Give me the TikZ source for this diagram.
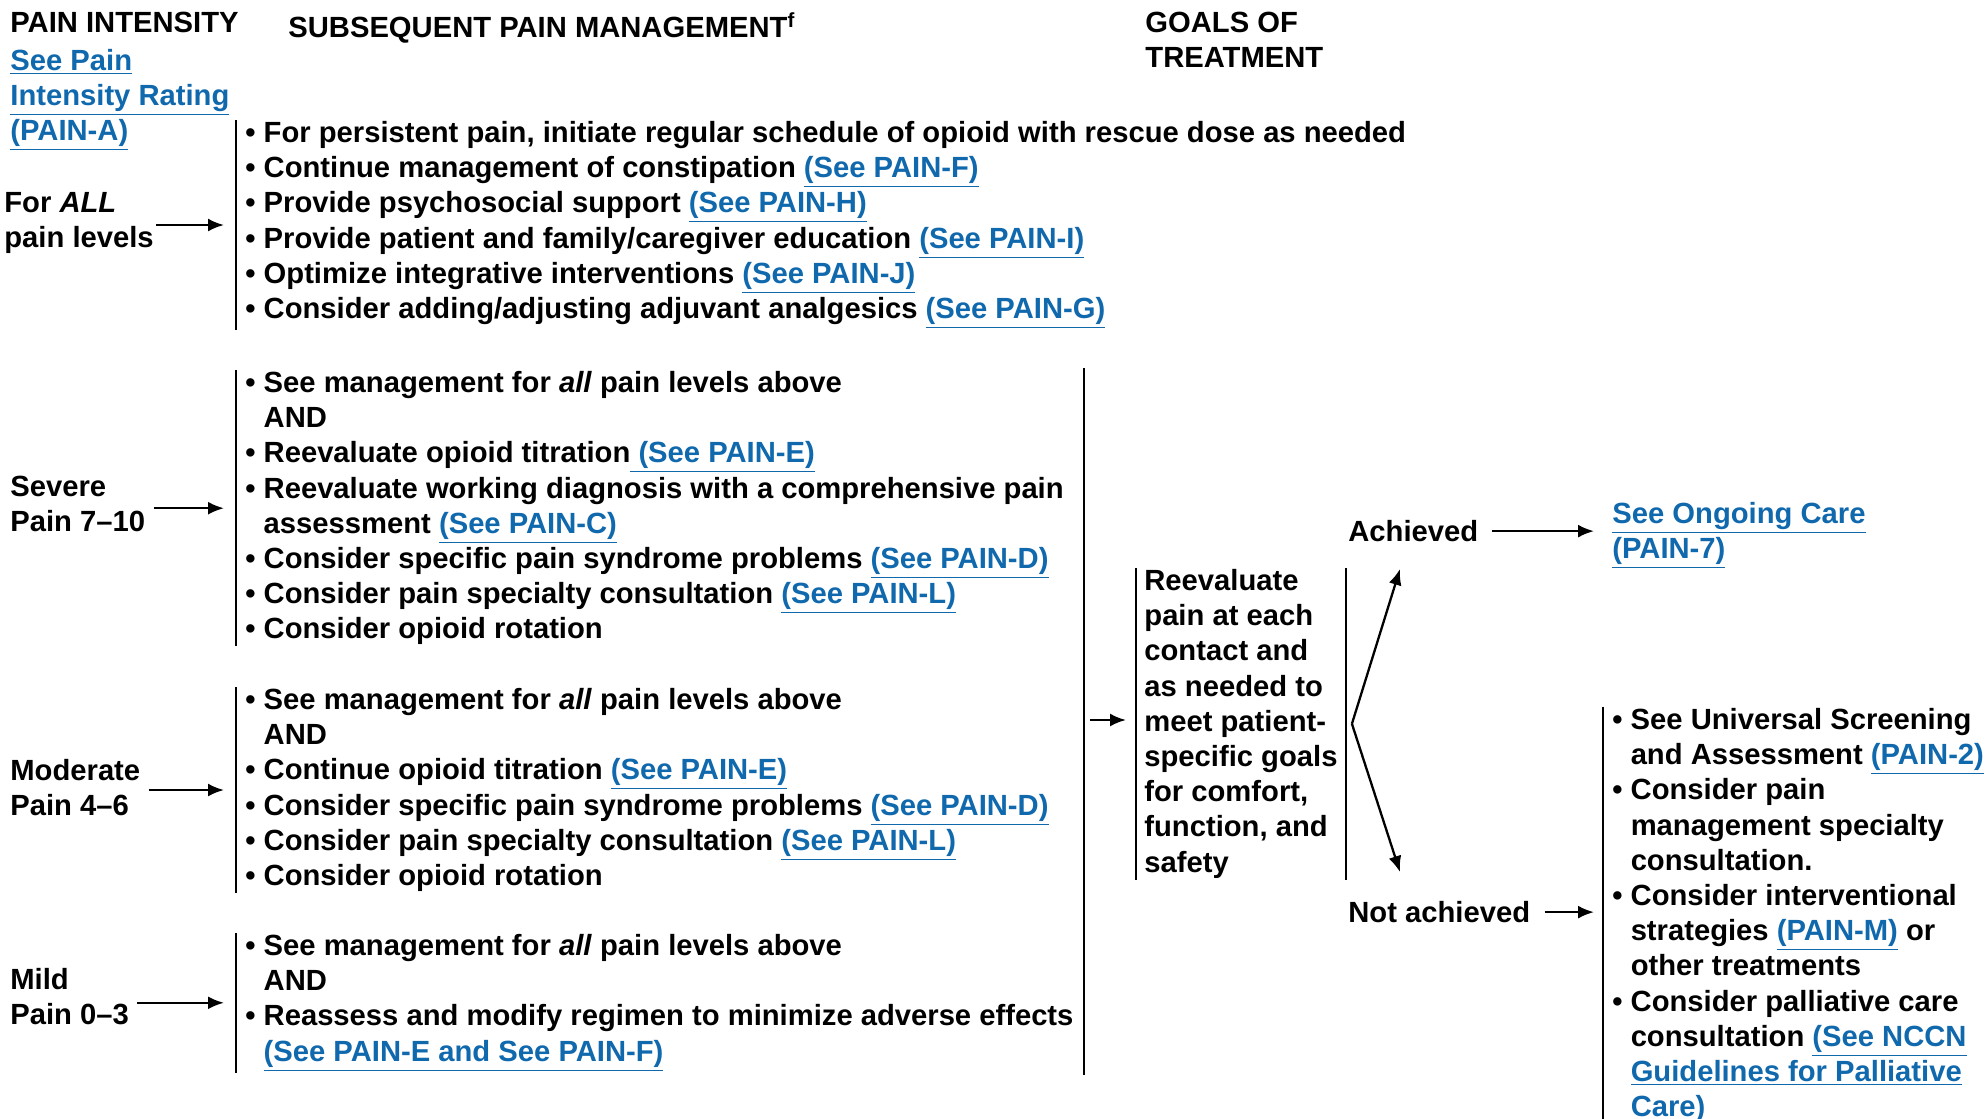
\documentclass[tikz,border=0pt]{standalone}
\usepackage{fontspec}
\setmainfont{Liberation Sans}
\usetikzlibrary{calc,arrows.meta}
\definecolor{linkblue}{RGB}{16,104,173}
\newcommand{\lnk}[1]{\textcolor{linkblue}{\underline{#1}}}
\newcommand{\bul}{\textbullet\ }
\newcommand{\ind}{\phantom{\textbullet\ }}
\tikzset{>={Latex[length=8pt,width=6.5pt]},
  txt/.style={anchor=north west,inner sep=0pt,align=left,
    font=\bfseries\fontsize{14.6}{17.6}\selectfont},
  lst/.style={txt,inner xsep=4.5pt,inner ysep=0.5pt},
  brk/.style={line width=1pt},
  arr/.style={->,line width=1.15pt},
  lvlarr/.style={arr,shorten <=4pt,shorten >=6pt}}

\begin{document}
\begin{tikzpicture}[x=0.5pt,y=-0.5pt]
\useasboundingbox (0,0) rectangle (1988,1119);
% headings
\node[txt] (pihd) at (10,12) {PAIN INTENSITY};
\node[txt] (spmhd) at (288,12) {SUBSEQUENT PAIN MANAGEMENT\textsuperscript{f}};
\node[txt] (goalhd) at (1145,12) {GOALS OF\\TREATMENT};
\node[txt] (pirate) at (10,49) {\lnk{See Pain}\\\lnk{Intensity Rating}\\\lnk{(PAIN-A)}};

% pain levels
\node[txt] (all) at (4,192) {For \textit{ALL}\\pain levels};
\node[txt] (sev) at (10,476) {Severe\\Pain 7--10};
\node[txt] (mod) at (10,759) {Moderate\\Pain 4--6};
\node[txt] (mild) at (10,968) {Mild\\Pain 0--3};

% management lists
\node[lst] (alll) at (236,120) {%
  \bul For persistent pain, initiate regular schedule of opioid with rescue dose as needed\\
  \bul Continue management of constipation \lnk{(See PAIN-F)}\\
  \bul Provide psychosocial support \lnk{(See PAIN-H)}\\
  \bul Provide patient and family/caregiver education \lnk{(See PAIN-I)}\\
  \bul Optimize integrative interventions \lnk{(See PAIN-J)}\\
  \bul Consider adding/adjusting adjuvant analgesics \lnk{(See PAIN-G)}};
\node[lst] (sevl) at (236,370) {%
  \bul See management for \textit{all} pain levels above\\
  \ind AND\\
  \bul Reevaluate opioid titration\lnk{\ (See PAIN-E)}\\
  \bul Reevaluate working diagnosis with a comprehensive pain\\
  \ind assessment \lnk{(See PAIN-C)}\\
  \bul Consider specific pain syndrome problems \lnk{(See PAIN-D)}\\
  \bul Consider pain specialty consultation \lnk{(See PAIN-L)}\\
  \bul Consider opioid rotation};
\node[lst] (modl) at (236,687) {%
  \bul See management for \textit{all} pain levels above\\
  \ind AND\\
  \bul Continue opioid titration \lnk{(See PAIN-E)}\\
  \bul Consider specific pain syndrome problems \lnk{(See PAIN-D)}\\
  \bul Consider pain specialty consultation \lnk{(See PAIN-L)}\\
  \bul Consider opioid rotation};
\node[lst] (mildl) at (236,933) {%
  \bul See management for \textit{all} pain levels above\\
  \ind AND\\
  \bul Reassess and modify regimen to minimize adverse effects\\
  \ind \lnk{(See PAIN-E and See PAIN-F)}};

\foreach \l in {alll,sevl,modl,mildl}
  \draw[brk] (\l.north west) -- (\l.south west);
\draw[arr,shorten <=1pt,shorten >=6pt] (all.east |- alll.west) -- (alll.west);
\draw[lvlarr] (sev.east |- sevl.west) -- (sevl.west);
\draw[lvlarr] (mod.east |- modl.west) -- (modl.west);
\draw[lvlarr] (mild.east |- mildl.west) -- (mildl.west);

% goals
\draw[brk] (1084,368) -- (1084,1075);
\coordinate (mgmt) at (1084,720);
\node[lst,inner xsep=4pt] (goals) at (1136,568) {Reevaluate\\pain at each\\contact and\\as needed to\\meet patient-\\specific goals\\for comfort,\\function, and\\safety};
\draw[brk] (goals.north west) -- (goals.south west);
\draw[brk] (goals.north east) -- (goals.south east);
\draw[arr,shorten <=3pt,shorten >=5pt] (mgmt) -- (mgmt -| goals.west);

% outcome
\coordinate (fork) at ([xshift=3pt]goals.east);
\coordinate (achtip) at (1400,569);
\coordinate (nachtip) at (1400,872);
\draw[arr] (fork) -- (achtip);
\draw[arr] (fork) -- (nachtip);
\node[txt] (ach) at (1348,520) {Achieved};
\node[txt] (nach) at (1348,901) {Not achieved};
\node[txt] (ong) at (1612,502) {\lnk{See Ongoing Care}\\\lnk{(PAIN-7)}};
\node[lst] (nachl) at (1603,707) {%
  \bul See Universal Screening\\
  \ind and Assessment \lnk{(PAIN-2)}\\
  \bul Consider pain\\
  \ind management specialty\\
  \ind consultation.\\
  \bul Consider interventional\\
  \ind strategies \lnk{(PAIN-M)} or\\
  \ind other treatments\\
  \bul Consider palliative care\\
  \ind consultation \lnk{(See NCCN}\\
  \ind \lnk{Guidelines for Palliative}\\
  \ind \lnk{Care)}};
\draw[brk] (nachl.north west) -- (nachl.south west);
\draw[arr,shorten <=6.5pt,shorten >=9pt] (ach.east) -- (ach.east -| ong.west);
\draw[arr,shorten <=7pt,shorten >=4.5pt] (nach.east) -- (nach.east -| nachl.west);
\end{tikzpicture}
\end{document}
